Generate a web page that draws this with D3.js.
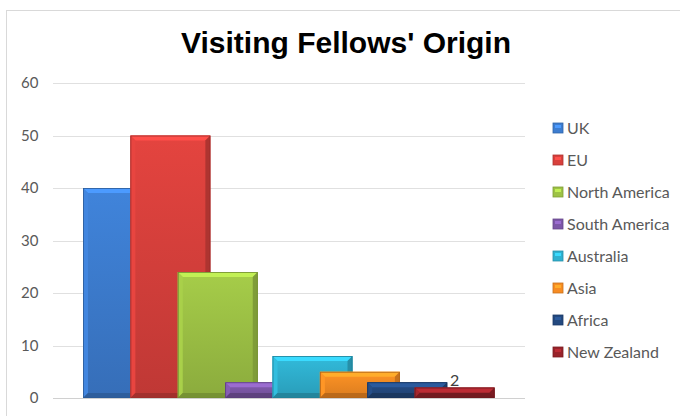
<!DOCTYPE html>
<html><head><meta charset="utf-8">
<script src="https://cdn.jsdelivr.net/npm/d3@7"></script>
<style>body{margin:0;background:#fff}svg{display:block}</style>
</head><body>
<svg id="c" width="680" height="416"></svg>
<script>
const categories = ["UK","EU","North America","South America","Australia","Asia","Africa","New Zealand"];
const values = [40,50,24,3,8,5,3,2];
const colors = ["#3d7dd0","#d8403c","#9dc245","#7d57a8","#2fb1d0","#f78c23","#23497f","#98232a"];
const yTicks = [0,10,20,30,40,50,60];
const labelled = ["New Zealand"];

const svg = d3.select("#c");
const W = 680, H = 416;
const txtFont = "Lato, Open Sans, sans-serif";
svg.append("rect").attr("x",6.5).attr("y",10.5).attr("width",W).attr("height",H).attr("fill","#fff").attr("stroke","#d9d9d9");

const y = d3.scaleLinear().domain([0,60]).range([398,83]);
const x = d3.scaleBand().domain(categories).range([83,462]).paddingInner(0).paddingOuter(0);
const barW = 80;

svg.append("text").attr("x",346).attr("y",53).attr("text-anchor","middle")
  .attr("font-family","Liberation Sans, Arial, sans-serif").attr("font-weight","bold")
  .attr("font-size",30).attr("fill","#000").text("Visiting Fellows' Origin");

// gridlines
const gx0 = 53, gx1 = 525;
svg.append("g").selectAll("line").data(yTicks).join("line")
  .attr("x1",gx0).attr("x2",gx1).attr("y1",d=>Math.round(y(d))+0.5).attr("y2",d=>Math.round(y(d))+0.5)
  .attr("stroke",d=>d===0?"#d0d0d0":"#e0e0e0").attr("stroke-width",1);

const yAxis = d3.axisLeft(y).tickValues(yTicks).tickSize(0).tickPadding(0);
const ga = svg.append("g").attr("transform","translate(38.5,0)").call(yAxis);
ga.select(".domain").remove();
ga.selectAll("text").attr("font-family",txtFont).attr("font-size",15).attr("fill","#595959");

const defs = svg.append("defs");
colors.forEach((c,i)=>{
  const g = defs.append("linearGradient").attr("id","g"+i).attr("x1",0).attr("y1",0).attr("x2",0).attr("y2",1);
  g.append("stop").attr("offset",0).attr("stop-color",d3.color(c).brighter(0.15));
  g.append("stop").attr("offset",1).attr("stop-color",d3.color(c).darker(0.35));
});

const bars = svg.append("g");
categories.forEach((cat,i)=>{
  const x0 = x(cat), x1 = x0 + barW, y0 = y(values[i]), y1 = y(0);
  const b = Math.min(5, (y1-y0)/2);
  const g = bars.append("g");
  g.append("rect").attr("x",x0).attr("y",y0).attr("width",barW).attr("height",y1-y0).attr("fill",`url(#g${i})`);
  const c = d3.color(colors[i]);
  g.append("polygon").attr("points",[[x0,y0],[x1,y0],[x1-b,y0+b],[x0+b,y0+b]].join(" ")).attr("fill",c.brighter(0.6));
  g.append("polygon").attr("points",[[x0,y0],[x0+b,y0+b],[x0+b,y1-b],[x0,y1]].join(" ")).attr("fill",c.brighter(0.2));
  g.append("polygon").attr("points",[[x1,y0],[x1,y1],[x1-b,y1-b],[x1-b,y0+b]].join(" ")).attr("fill",c.darker(0.6));
  g.append("polygon").attr("points",[[x0,y1],[x0+b,y1-b],[x1-b,y1-b],[x1,y1]].join(" ")).attr("fill",c.darker(0.8));
  g.append("rect").attr("x",x0+0.5).attr("y",y0+0.5).attr("width",barW-1).attr("height",y1-y0-1).attr("fill","none").attr("stroke",c.darker(0.9)).attr("stroke-width",0.8);
  if (labelled.includes(cat)) {
    g.append("text").attr("x",x0+barW/2).attr("y",y0-2).attr("text-anchor","middle")
      .attr("font-family",txtFont).attr("font-size",16).attr("fill","#404040").text(values[i]);
  }
});

// legend
const lg = svg.append("g");
categories.forEach((cat,i)=>{
  const yy = 128 + i*32;
  const c = d3.color(colors[i]);
  lg.append("rect").attr("x",553).attr("y",yy-5).attr("width",10).attr("height",10).attr("fill",c).attr("stroke",c.darker(0.6)).attr("stroke-width",0.8);
  lg.append("rect").attr("x",555).attr("y",yy-3).attr("width",6).attr("height",3).attr("fill",c.brighter(0.6));
  lg.append("text").attr("x",567).attr("y",yy).attr("dy","0.35em")
    .attr("font-family",txtFont).attr("font-size",16).attr("fill","#595959").text(cat);
});
</script>
</body></html>
